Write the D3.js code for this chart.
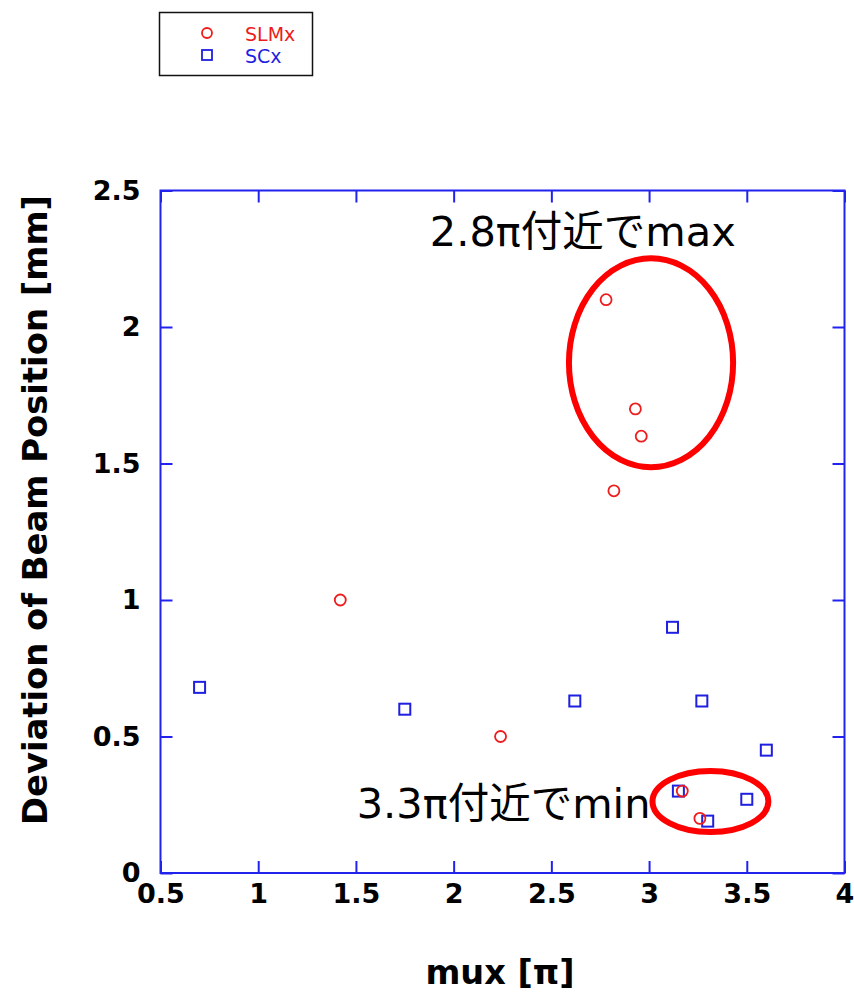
<!DOCTYPE html>
<html>
<head>
<meta charset="utf-8">
<script src="https://cdn.jsdelivr.net/npm/d3@7"></script>
<style>
  html, body { margin: 0; padding: 0; background: #fff; }
  svg { display: block; }
</style>
</head>
<body>
<div id="chart"></div>
<script>
// ---- data ----
const slmxX = [2.78, 2.93, 2.96, 2.82, 1.42, 2.24, 3.17, 3.26];
const slmxY = [2.10, 1.70, 1.60, 1.40, 1.00, 0.50, 0.30, 0.20];
const scxX = [0.70, 1.75, 2.62, 3.12, 3.27, 3.60, 3.15, 3.30, 3.50];
const scxY = [0.68, 0.60, 0.63, 0.90, 0.63, 0.45, 0.30, 0.19, 0.27];
const xTicks = [0.5, 1, 1.5, 2, 2.5, 3, 3.5, 4];
const xTickLabels = ["0.5", "1", "1.5", "2", "2.5", "3", "3.5", "4"];
const yTicks = [0, 0.5, 1, 1.5, 2, 2.5];
const yTickLabels = ["0", "0.5", "1", "1.5", "2", "2.5"];
const seriesNames = ["SLMx", "SCx"];
const xTitle = "mux [π]";
const yTitle = "Deviation of Beam Position [mm]";
const noteTexts = ["2.8π付近でmax", "3.3π付近でmin"];
const noteX = [1.878, 1.504];
const noteY = [2.295, 0.201];
// highlight ellipses: centre and radii in data units
const ellCx = [3.01, 3.314];
const ellCy = [1.869, 0.262];
const ellRx = [0.42, 0.2965];
const ellRy = [0.3825, 0.112];

// ---- layout ----
const W = 854, H = 993;
const pL = 160.5, pR = 844.5, pT = 190.5, pB = 873;
const RED = "#ee1c1c", BLUE = "#1f1fe0", AXIS = "#2222ee";

const svg = d3.select("#chart").append("svg")
  .attr("width", W).attr("height", H);

const x = d3.scaleLinear().domain([0.5, 4]).range([pL, pR]);
const y = d3.scaleLinear().domain([0, 2.5]).range([pB, pT]);

const tickFont = "'DejaVu Sans', Verdana, sans-serif";

// axes (inward ticks, mirrored)
const gx = svg.append("g").attr("transform", `translate(0,${pB})`)
  .call(d3.axisBottom(x).tickValues(xTicks)
    .tickFormat((d, i) => xTickLabels[i]).tickSizeInner(-12).tickSizeOuter(0).tickPadding(11));
const gxt = svg.append("g").attr("transform", `translate(0,${pT})`)
  .call(d3.axisTop(x).tickValues(xTicks).tickFormat("").tickSizeInner(-12).tickSizeOuter(0));
const gy = svg.append("g").attr("transform", `translate(${pL},0)`)
  .call(d3.axisLeft(y).tickValues(yTicks)
    .tickFormat((d, i) => yTickLabels[i]).tickSizeInner(-12).tickSizeOuter(0).tickPadding(20));
const gyr = svg.append("g").attr("transform", `translate(${pR},0)`)
  .call(d3.axisRight(y).tickValues(yTicks).tickFormat("").tickSizeInner(-12).tickSizeOuter(0));

[gx, gxt, gy, gyr].forEach(g => {
  g.select(".domain").remove();
  g.selectAll(".tick line").attr("stroke", AXIS).attr("stroke-width", 2);
  g.selectAll(".tick text").attr("fill", "#000")
    .style("font-family", tickFont).style("font-weight", "bold").style("font-size", "27px");
});

// frame
svg.append("rect")
  .attr("x", pL).attr("y", pT)
  .attr("width", pR - pL).attr("height", pB - pT)
  .attr("fill", "none").attr("stroke", AXIS).attr("stroke-width", 2);

// axis titles
svg.append("text")
  .attr("x", 500).attr("y", 984)
  .attr("text-anchor", "middle")
  .style("font-family", tickFont).style("font-weight", "bold").style("font-size", "33.5px")
  .text(xTitle);
svg.append("text")
  .attr("transform", "translate(47,510) rotate(-90)")
  .attr("text-anchor", "middle")
  .style("font-family", tickFont).style("font-weight", "bold").style("font-size", "33.8px")
  .text(yTitle);

// points
const slmx = slmxX.map((v, i) => ({ x: v, y: slmxY[i] }));
const scx = scxX.map((v, i) => ({ x: v, y: scxY[i] }));

svg.append("g").selectAll("rect").data(scx).join("rect")
  .attr("x", d => x(d.x) - 5.5).attr("y", d => y(d.y) - 5.5)
  .attr("width", 11).attr("height", 11)
  .attr("fill", "none").attr("stroke", BLUE).attr("stroke-width", 2);

svg.append("g").selectAll("circle").data(slmx).join("circle")
  .attr("cx", d => x(d.x)).attr("cy", d => y(d.y)).attr("r", 5.5)
  .attr("fill", "none").attr("stroke", RED).attr("stroke-width", 1.8);

// highlight ellipses
const ells = ellCx.map((v, i) => ({ cx: v, cy: ellCy[i], rx: ellRx[i], ry: ellRy[i] }));
svg.append("g").selectAll("ellipse").data(ells).join("ellipse")
  .attr("cx", d => x(d.cx)).attr("cy", d => y(d.cy))
  .attr("rx", d => x(d.cx + d.rx) - x(d.cx))
  .attr("ry", d => y(d.cy) - y(d.cy + d.ry))
  .attr("fill", "none").attr("stroke", "#ff0000").attr("stroke-width", 6);

// annotation texts
svg.append("g").selectAll("text").data(noteTexts).join("text")
  .attr("x", (d, i) => x(noteX[i])).attr("y", (d, i) => y(noteY[i]))
  .style("font-family", "'DejaVu Sans', 'Noto Sans CJK JP', sans-serif")
  .style("font-size", "41.5px").attr("fill", "#000")
  .text(d => d);

// legend
const lg = svg.append("g");
lg.append("rect").attr("x", 159.5).attr("y", 12.5).attr("width", 153).attr("height", 63)
  .attr("fill", "#fff").attr("stroke", "#111").attr("stroke-width", 1.5);
lg.append("circle").attr("cx", 207).attr("cy", 33).attr("r", 5)
  .attr("fill", "none").attr("stroke", RED).attr("stroke-width", 1.8);
lg.append("rect").attr("x", 202).attr("y", 50).attr("width", 10).attr("height", 10)
  .attr("fill", "none").attr("stroke", BLUE).attr("stroke-width", 1.8);
lg.selectAll("text.lab").data(seriesNames).join("text").attr("class", "lab")
  .attr("x", 245).attr("y", (d, i) => 41 + i * 22)
  .attr("fill", (d, i) => i === 0 ? RED : BLUE)
  .style("font-family", tickFont).style("font-size", "19px")
  .text(d => d);
</script>
</body>
</html>
